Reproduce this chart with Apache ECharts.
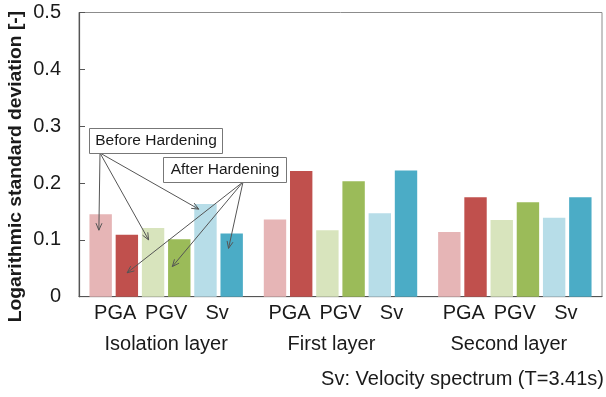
<!DOCTYPE html>
<html>
<head>
<meta charset="utf-8">
<script src="https://cdn.jsdelivr.net/npm/echarts@6/dist/echarts.min.js"></script>
<style>
  html, body { margin: 0; padding: 0; background: #fff; }
  #chart { width: 606px; height: 397px; }
</style>
</head>
<body>
<div id="chart"></div>
<script>
// Layers (x categories) and the measures shown under each group of bars
const categories = ['Isolation layer', 'First layer', 'Second layer'];
const measures = ['PGA', 'PGV', 'Sv'];

// Logarithmic standard deviation per layer, before / after hardening
const pgaBefore = [0.145, 0.136, 0.114];
const pgaAfter  = [0.109, 0.221, 0.175];
const pgvBefore = [0.121, 0.117, 0.135];
const pgvAfter  = [0.101, 0.203, 0.166];
const svBefore  = [0.163, 0.147, 0.139];
const svAfter   = [0.111, 0.222, 0.175];

const yMin = 0, yMax = 0.5, yStep = 0.1;

const seriesDefs = [
  { name: 'PGA before', data: pgaBefore, color: '#E6B5B6' },
  { name: 'PGA after',  data: pgaAfter,  color: '#C0504D' },
  { name: 'PGV before', data: pgvBefore, color: '#D8E4BD' },
  { name: 'PGV after',  data: pgvAfter,  color: '#9BBB59' },
  { name: 'Sv before',  data: svBefore,  color: '#B7DDE8' },
  { name: 'Sv after',   data: svAfter,   color: '#4BACC6' }
];

// Callout arrows: each points into a bar (series index, layer index),
// at a fraction of the bar width and at a given value height.
const beforeTargets = [
  { s: 0, c: 0, fx: 0.42, v: 0.117 },
  { s: 2, c: 0, fx: 0.30, v: 0.100 },
  { s: 4, c: 0, fx: 0.20, v: 0.154 }
];
const afterTargets = [
  { s: 1, c: 0, fx: 0.51, v: 0.042 },
  { s: 3, c: 0, fx: 0.19, v: 0.053 },
  { s: 5, c: 0, fx: 0.36, v: 0.085 }
];

// Small horizontal shift of each layer name under its group
const groupLabelShift = [0, -9, -6];

const FONT = 'Arial, "Liberation Sans", sans-serif';
const chart = echarts.init(document.getElementById('chart'), null, { renderer: 'canvas' });

const richStyles = {
  m: { fontSize: 20, fontFamily: FONT, color: '#1a1a1a', width: 51, align: 'center', lineHeight: 30 },
  g: { fontSize: 20, fontFamily: FONT, color: '#1a1a1a', lineHeight: 32, align: 'center' },
  p: { fontSize: 20, lineHeight: 32, align: 'center' }
};
for (let k = 1; k <= 40; k++) {
  richStyles['p' + k] = { width: k, fontSize: 20, lineHeight: 32, align: 'center' };
}

chart.setOption({
  animation: false,
  grid: { left: 79, right: 4, top: 12.5, bottom: 100.3, show: true, borderColor: '#8c8c8c', borderWidth: 1 },
  xAxis: {
    type: 'category',
    data: categories,
    axisLine: { show: true, lineStyle: { color: '#555', width: 1.2 } },
    axisTick: { show: false },
    axisLabel: {
      margin: 2,
      interval: 0,
      formatter: function (value, idx) {
        const top = measures.map(m => '{m|' + m + '}').join('');
        const shift = Math.round(-groupLabelShift[idx] * 2);
        const spacer = shift > 0 ? '{p' + shift + '|}' : '';
        return top + '\n{g|' + value + '}' + spacer;
      },
      rich: richStyles
    }
  },
  yAxis: {
    type: 'value',
    min: yMin,
    max: yMax,
    interval: yStep,
    axisLine: { show: true, lineStyle: { color: '#555', width: 1.2 } },
    axisTick: { show: true, inside: true, length: 6, lineStyle: { color: '#555' } },
    splitLine: { show: false },
    axisLabel: {
      margin: 18,
      fontSize: 20,
      fontFamily: FONT,
      color: '#1a1a1a',
      formatter: v => (v === 0 ? '0' : v.toFixed(1))
    }
  },
  series: seriesDefs.map(d => ({
    type: 'bar',
    name: d.name,
    data: d.data,
    barGap: '17%',
    barCategoryGap: '12%',
    itemStyle: { color: d.color }
  }))
});

// Locate a point inside a drawn bar
function barPoint(t) {
  const yPix = chart.convertToPixel({ yAxisIndex: 0 }, t.v);
  let x;
  try {
    const layout = chart.getModel().getSeriesByIndex(t.s).getData().getItemLayout(t.c);
    x = layout.x + layout.width * t.fx;
  } catch (e) {
    x = chart.convertToPixel({ xAxisIndex: 0 }, t.c);
  }
  return [x, yPix];
}

function arrow(id, from, to) {
  const dx = to[0] - from[0], dy = to[1] - from[1];
  const len = Math.sqrt(dx * dx + dy * dy);
  const ux = dx / len, uy = dy / len;
  const nx = -uy, ny = ux;
  const hl = 7, hw = 3;
  const a = [to[0] - hl * ux + hw * nx, to[1] - hl * uy + hw * ny];
  const b = [to[0] - hl * ux - hw * nx, to[1] - hl * uy - hw * ny];
  return [
    { type: 'polyline', id: id + 'l', z: 50, shape: { points: [from, to] }, style: { stroke: '#555', lineWidth: 1, fill: null } },
    { type: 'polyline', id: id + 'h', z: 50, shape: { points: [a, to, b] }, style: { stroke: '#555', lineWidth: 1, fill: null } }
  ];
}

const beforeOrigin = [100, 153];
const afterOrigin = [243, 182];

let graphics = [];
beforeTargets.forEach((t, i) => { graphics = graphics.concat(arrow('b' + i, beforeOrigin, barPoint(t))); });
afterTargets.forEach((t, i) => { graphics = graphics.concat(arrow('a' + i, afterOrigin, barPoint(t))); });

graphics.push(
  {
    type: 'rect', id: 'boxBefore', z: 60,
    shape: { x: 89.5, y: 128.5, width: 133, height: 25 },
    style: { fill: '#fff', stroke: '#777', lineWidth: 1 }
  },
  {
    type: 'text', id: 'txtBefore', z: 61,
    x: 156, y: 141,
    style: { text: 'Before Hardening', fontSize: 15.5, fontFamily: FONT, fill: '#1a1a1a', align: 'center', verticalAlign: 'middle' }
  },
  {
    type: 'rect', id: 'boxAfter', z: 60,
    shape: { x: 163.5, y: 157.5, width: 123, height: 25 },
    style: { fill: '#fff', stroke: '#777', lineWidth: 1 }
  },
  {
    type: 'text', id: 'txtAfter', z: 61,
    x: 225, y: 170,
    style: { text: 'After Hardening', fontSize: 15.5, fontFamily: FONT, fill: '#1a1a1a', align: 'center', verticalAlign: 'middle' }
  },
  {
    type: 'text', id: 'yTitle', z: 61,
    x: 16, y: 166.5, rotation: Math.PI / 2, scaleX: 1.07,
    style: { text: 'Logarithmic standard deviation [-]', fontSize: 18, fontWeight: 'bold', fontFamily: FONT, fill: '#1a1a1a', align: 'center', verticalAlign: 'middle' }
  },
  {
    type: 'text', id: 'note', z: 61,
    x: 604, y: 379,
    style: { text: 'Sv: Velocity spectrum (T=3.41s)', fontSize: 20, fontFamily: FONT, fill: '#1a1a1a', align: 'right', verticalAlign: 'middle' }
  }
);

chart.setOption({ graphic: graphics });
</script>
</body>
</html>
